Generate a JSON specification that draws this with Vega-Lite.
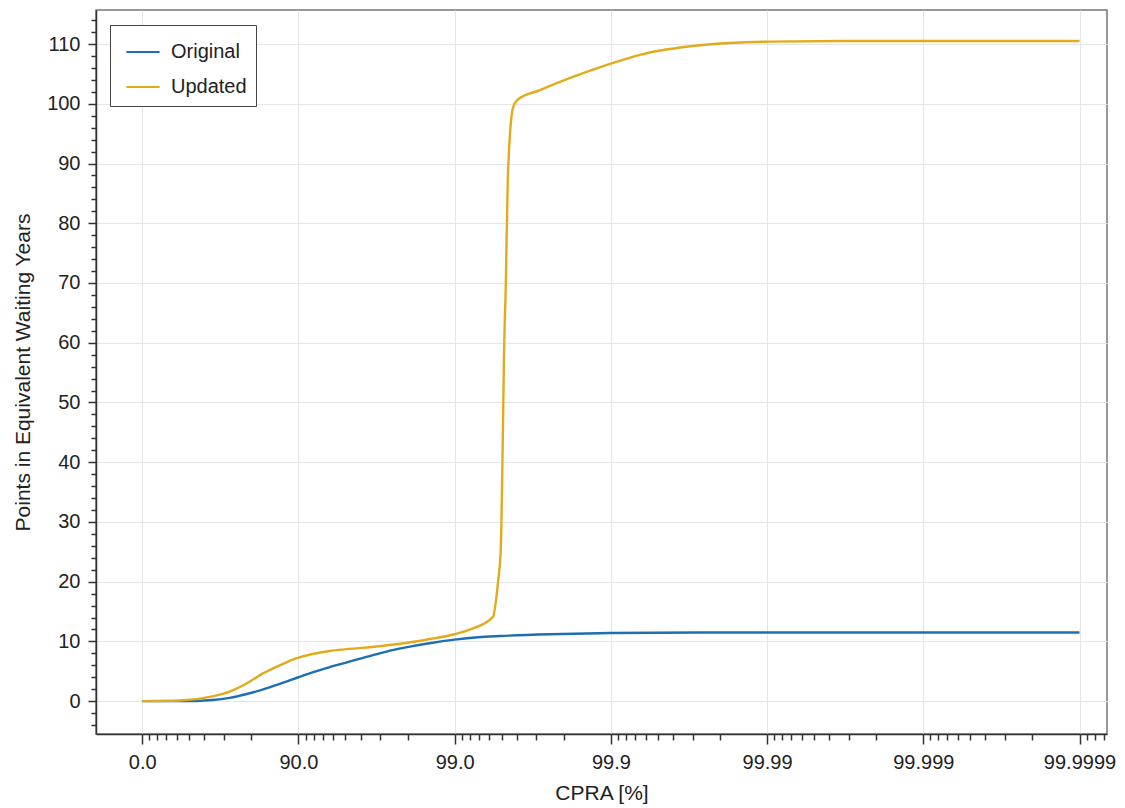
{
  "$schema": "https://vega.github.io/schema/vega-lite/v6.json",
  "autosize": "none",
  "width": 1011,
  "height": 724,
  "padding": {"left": 96, "top": 10, "right": 18, "bottom": 74},
  "background": "white",
  "config": {
    "font": "Liberation Sans",
    "view": {"stroke": "#777", "strokeWidth": 1.5},
    "axis": {
      "labelFont": "Liberation Sans",
      "titleFont": "Liberation Sans",
      "labelFontSize": 20,
      "titleFontSize": 20,
      "labelColor": "#222",
      "titleColor": "#222",
      "titleFontWeight": "normal",
      "domainColor": "#333",
      "domainWidth": 1.5,
      "tickColor": "#333",
      "tickWidth": 1.5,
      "gridColor": "#e6e6e6",
      "gridWidth": 1
    }
  },
  "data": {
    "values": [
      {"x": 0, "y": 0, "series": "Original"},
      {"x": 0.24, "y": 0.0, "series": "Original"},
      {"x": 0.45, "y": 0.2, "series": "Original"},
      {"x": 0.56, "y": 0.55, "series": "Original"},
      {"x": 0.67, "y": 1.2, "series": "Original"},
      {"x": 0.78, "y": 2.0, "series": "Original"},
      {"x": 0.88, "y": 2.9, "series": "Original"},
      {"x": 1.0, "y": 4.0, "series": "Original"},
      {"x": 1.09, "y": 4.8, "series": "Original"},
      {"x": 1.2, "y": 5.7, "series": "Original"},
      {"x": 1.31, "y": 6.5, "series": "Original"},
      {"x": 1.42, "y": 7.3, "series": "Original"},
      {"x": 1.52, "y": 8.0, "series": "Original"},
      {"x": 1.63, "y": 8.7, "series": "Original"},
      {"x": 1.73, "y": 9.2, "series": "Original"},
      {"x": 1.84, "y": 9.7, "series": "Original"},
      {"x": 2.0, "y": 10.3, "series": "Original"},
      {"x": 2.15, "y": 10.7, "series": "Original"},
      {"x": 2.29, "y": 10.9, "series": "Original"},
      {"x": 2.61, "y": 11.2, "series": "Original"},
      {"x": 3.0, "y": 11.4, "series": "Original"},
      {"x": 3.57, "y": 11.5, "series": "Original"},
      {"x": 4.0, "y": 11.5, "series": "Original"},
      {"x": 5.0, "y": 11.5, "series": "Original"},
      {"x": 6.0, "y": 11.5, "series": "Original"},
      {"x": 0, "y": 0, "series": "Updated"},
      {"x": 0.24, "y": 0.1, "series": "Updated"},
      {"x": 0.45, "y": 0.8, "series": "Updated"},
      {"x": 0.56, "y": 1.6, "series": "Updated"},
      {"x": 0.67, "y": 3.0, "series": "Updated"},
      {"x": 0.77, "y": 4.6, "series": "Updated"},
      {"x": 0.88, "y": 6.0, "series": "Updated"},
      {"x": 0.99, "y": 7.2, "series": "Updated"},
      {"x": 1.09, "y": 7.9, "series": "Updated"},
      {"x": 1.2, "y": 8.4, "series": "Updated"},
      {"x": 1.31, "y": 8.7, "series": "Updated"},
      {"x": 1.52, "y": 9.2, "series": "Updated"},
      {"x": 1.73, "y": 9.9, "series": "Updated"},
      {"x": 1.84, "y": 10.4, "series": "Updated"},
      {"x": 2.0, "y": 11.2, "series": "Updated"},
      {"x": 2.1, "y": 12.0, "series": "Updated"},
      {"x": 2.245, "y": 14.1, "series": "Updated"},
      {"x": 2.277, "y": 19.8, "series": "Updated"},
      {"x": 2.295, "y": 25.3, "series": "Updated"},
      {"x": 2.307, "y": 42, "series": "Updated"},
      {"x": 2.316, "y": 58, "series": "Updated"},
      {"x": 2.328, "y": 70.5, "series": "Updated"},
      {"x": 2.34, "y": 87.2, "series": "Updated"},
      {"x": 2.373, "y": 99.3, "series": "Updated"},
      {"x": 2.4, "y": 100.6, "series": "Updated"},
      {"x": 2.546, "y": 102.3, "series": "Updated"},
      {"x": 2.757, "y": 104.5, "series": "Updated"},
      {"x": 2.975, "y": 106.5, "series": "Updated"},
      {"x": 3.186, "y": 108.2, "series": "Updated"},
      {"x": 3.57, "y": 109.8, "series": "Updated"},
      {"x": 4.02, "y": 110.4, "series": "Updated"},
      {"x": 4.5, "y": 110.5, "series": "Updated"},
      {"x": 6.0, "y": 110.5, "series": "Updated"}
    ]
  },
  "layer": [
    {
      "mark": {"type": "line", "strokeWidth": 2.4, "interpolate": "monotone"},
      "encoding": {
        "x": {
          "field": "x",
          "type": "quantitative",
          "scale": {"domain": [-0.296, 6.176], "nice": false, "zero": false},
          "axis": {
            "orient": "bottom",
            "title": "CPRA [%]",
            "titleFontSize": 21,
            "values": [0, 1, 2, 3, 4, 5, 6],
            "labelExpr": "['0.0','90.0','99.0','99.9','99.99','99.999','99.9999'][datum.value]",
            "tickSize": 10,
            "labelPadding": 8,
            "titlePadding": 10,
            "grid": true,
            "labelFlush": false
          }
        },
        "y": {
          "field": "y",
          "type": "quantitative",
          "scale": {"domain": [-5.5, 115.7], "nice": false, "zero": false},
          "axis": {
            "orient": "left",
            "title": "Points in Equivalent Waiting Years",
            "titleFontSize": 21,
            "values": [0, 10, 20, 30, 40, 50, 60, 70, 80, 90, 100, 110],
            "tickSize": 8,
            "labelPadding": 8,
            "titlePadding": 13,
            "grid": true
          }
        },
        "color": {
          "field": "series",
          "type": "nominal",
          "scale": {"domain": ["Original", "Updated"], "range": ["#1B6FB2", "#E3AA1C"]},
          "legend": {
            "orient": "none",
            "legendX": 14,
            "legendY": 15,
            "title": null,
            "padding": 9,
            "strokeColor": "#444",
            "fillColor": "white",
            "symbolType": "stroke",
            "symbolSize": 1100,
            "symbolStrokeWidth": 2,
            "symbolOffset": 6,
            "labelFontSize": 20,
            "labelFont": "Liberation Sans",
            "labelColor": "#222",
            "labelOffset": 10,
            "labelExpr": "datum.label + '   '",
            "rowPadding": 7
          }
        }
      }
    },
    {
      "mark": {"type": "line", "opacity": 0},
      "encoding": {
        "x": {
          "field": "x",
          "type": "quantitative",
          "axis": {
            "orient": "bottom",
            "title": null,
            "labels": false,
            "domain": false,
            "grid": false,
            "tickSize": 6,
            "values": [0.0458, 0.0969, 0.1549, 0.2218, 0.301, 0.3979, 0.5229, 0.699,
                       1.0458, 1.0969, 1.1549, 1.2218, 1.301, 1.3979, 1.5229, 1.699,
                       2.0458, 2.0969, 2.1549, 2.2218, 2.301, 2.3979, 2.5229, 2.699,
                       3.0458, 3.0969, 3.1549, 3.2218, 3.301, 3.3979, 3.5229, 3.699,
                       4.0458, 4.0969, 4.1549, 4.2218, 4.301, 4.3979, 4.5229, 4.699,
                       5.0458, 5.0969, 5.1549, 5.2218, 5.301, 5.3979, 5.5229, 5.699,
                       6.0458, 6.0969, 6.1549]
          }
        },
        "y": {
          "field": "y",
          "type": "quantitative",
          "axis": {
            "orient": "left",
            "title": null,
            "labels": false,
            "domain": false,
            "grid": false,
            "tickSize": 5,
            "values": [-4, -2, 2, 4, 6, 8, 12, 14, 16, 18, 22, 24, 26, 28, 32, 34, 36, 38, 42, 44, 46, 48, 52, 54, 56, 58, 62, 64, 66, 68, 72, 74, 76, 78, 82, 84, 86, 88, 92, 94, 96, 98, 102, 104, 106, 108, 112, 114]
          }
        },
        "detail": {"field": "series", "type": "nominal"}
      }
    }
  ],
  "resolve": {"axis": {"x": "independent", "y": "independent"}}
}
